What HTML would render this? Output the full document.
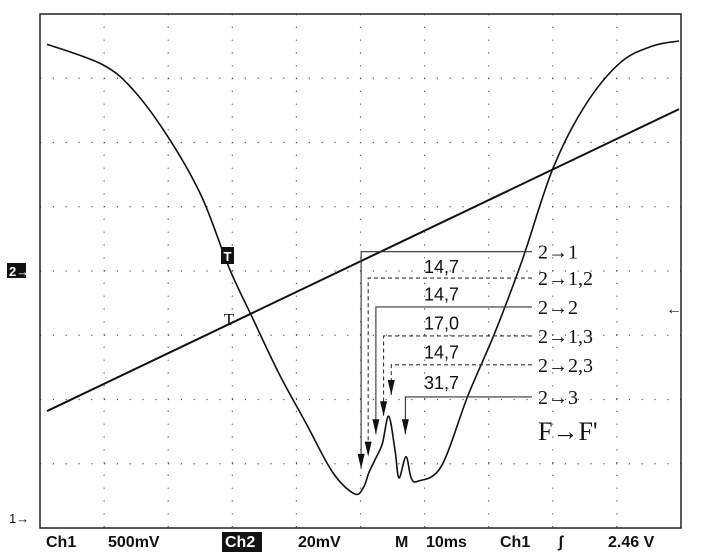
<!DOCTYPE html>
<html><head><meta charset="utf-8"><style>
html,body{margin:0;padding:0;background:#fff;}
svg{display:block;}
text{font-family:"Liberation Sans","DejaVu Sans",sans-serif;}
.ser{font-family:"Liberation Serif","DejaVu Serif",serif;}
.arr{font-family:"DejaVu Sans",sans-serif;}
</style></head><body>
<svg id="scope" width="705" height="553" viewBox="0 0 705 553">
<g id="grid"></g>
<rect x="40" y="14" width="641" height="514" fill="none" stroke="#222" stroke-width="1.5"/>
<g id="series"></g>
<g id="annot"></g>
<g>
<rect x="221" y="247" width="13" height="17" fill="#111"/>
<text x="227.5" y="261" font-size="13" fill="#fff" text-anchor="middle" font-weight="bold">T</text>
<text x="229" y="325" font-size="17" class="ser" text-anchor="middle" fill="#111">T</text>
<rect x="7" y="263" width="19" height="15" fill="#111"/>
<text x="9" y="276" font-size="13" fill="#fff" font-weight="bold">2→</text>
<text x="9" y="523" font-size="13" fill="#111">1→</text>
<text x="666" y="314" font-size="16" fill="#111" font-weight="bold">←</text>
</g>
<g font-size="16" font-weight="bold" fill="#111" style="font-family:'Liberation Mono','DejaVu Sans Mono',monospace">
<text x="46" y="547">Ch1</text>
<text x="108" y="547">500mV</text>
<rect x="222" y="532" width="40" height="20" fill="#111"/>
<text x="225" y="547" fill="#fff">Ch2</text>
<text x="298" y="547">20mV</text>
<text x="395" y="547">M</text>
<text x="426" y="547">10ms</text>
<text x="500" y="547">Ch1</text>
<text x="558" y="547">ʃ</text>
<text x="608" y="547">2.46 V</text>
</g>
</svg>
<script>
const tDiv=[0.11,0.98,1.48,2.04,2.53,2.95,3.31,3.73,4.15,4.57,4.91,5.05,5.13,5.23,5.34,5.44,5.54,5.60,5.71,5.79,5.90,6.26,6.68,7.10,7.52,8.00,8.50,9.05,9.55,9.97];
const absorption=[7.53,7.21,6.79,6.02,5.14,4.05,3.28,2.40,1.63,0.86,0.53,0.64,0.86,1.07,1.31,1.74,1.20,0.78,1.11,0.78,0.73,0.96,2.07,3.05,4.16,5.59,6.57,7.24,7.50,7.58];
const rampT=[0.11,9.97];
const ramp=[1.82,6.52];
const transLabels=["2→1","2→1,2","2→2","2→1,3","2→2,3","2→3"];
const transLevel=[4.30,3.89,3.44,2.99,2.54,2.04];
const transTip=[0.92,1.11,1.46,1.74,2.07,1.46];
const transT=[5.01,5.12,5.24,5.36,5.48,5.70];
const transDashed=[false,true,false,true,true,false];
const spacings=["14,7","14,7","17,0","14,7","31,7"];
const NS="http://www.w3.org/2000/svg";
const X=d=>40+d*64.1, Y=d=>528-d*64.25;
function mk(tag,parent,attrs){const e=document.createElementNS(NS,tag);for(const k in attrs)e.setAttribute(k,attrs[k]);parent.appendChild(e);return e;}
const grid=document.getElementById('grid');
for(let i=1;i<10;i++){const l=mk('line',grid,{x1:X(i),x2:X(i),y1:14,y2:528,stroke:'#555','stroke-width':1.2,'stroke-dasharray':'1.2 11.6'});

}
for(let j=1;j<8;j++){const l=mk('line',grid,{x1:40,x2:681,y1:Y(j),y2:Y(j),stroke:'#555','stroke-width':1.2,'stroke-dasharray':'1.2 11.6'});

}
function smooth(pts){let d='M'+pts[0][0]+','+pts[0][1];
 for(let i=0;i<pts.length-1;i++){const p0=pts[Math.max(0,i-1)],p1=pts[i],p2=pts[i+1],p3=pts[Math.min(pts.length-1,i+2)];
 const c1=[p1[0]+(p2[0]-p0[0])/6,p1[1]+(p2[1]-p0[1])/6],c2=[p2[0]-(p3[0]-p1[0])/6,p2[1]-(p3[1]-p1[1])/6];
 d+=` C${c1[0]},${c1[1]} ${c2[0]},${c2[1]} ${p2[0]},${p2[1]}`;}return d;}
const ser=document.getElementById('series');
const p1=mk('path',ser,{d:smooth(tDiv.map((t,i)=>[X(t),Y(absorption[i])])),fill:'none',stroke:'#111','stroke-width':1.6,'stroke-linejoin':'round'});


const p2=mk('polyline',ser,{points:rampT.map((t,i)=>X(t)+','+Y(ramp[i])).join(' '),fill:'none',stroke:'#111','stroke-width':2});


const an=document.getElementById('annot');
transLabels.forEach((lab,i)=>{
 const x=X(transT[i]),y=Y(transLevel[i]),yt=Y(transTip[i]);
 const da=transDashed[i]?'4 3':'none';
 const h=mk('polyline',an,{points:`532,${y} ${x},${y} ${x},${yt}`,fill:'none',stroke:'#333','stroke-width':1.1,'stroke-dasharray':da});
 
 
 const a=mk('polygon',an,{points:`${x-3.5},${yt-15} ${x+3.5},${yt-15} ${x},${yt}`,fill:'#111'});
 
 
 const t=mk('text',an,{x:538,y:y+7,'font-size':20,fill:'#111',class:'ser'});t.textContent=lab;
 
 
});
spacings.forEach((s,i)=>{
 const y=(Y(transLevel[i])+Y(transLevel[i+1]))/2+8;
 const t=mk('text',an,{x:424,y:y,'font-size':18,fill:'#111'});t.textContent=s;
 
 
});
const f=mk('text',an,{x:538,y:440,'font-size':26,fill:'#111',class:'ser'});f.textContent="F→F'";


</script>
</body></html>
